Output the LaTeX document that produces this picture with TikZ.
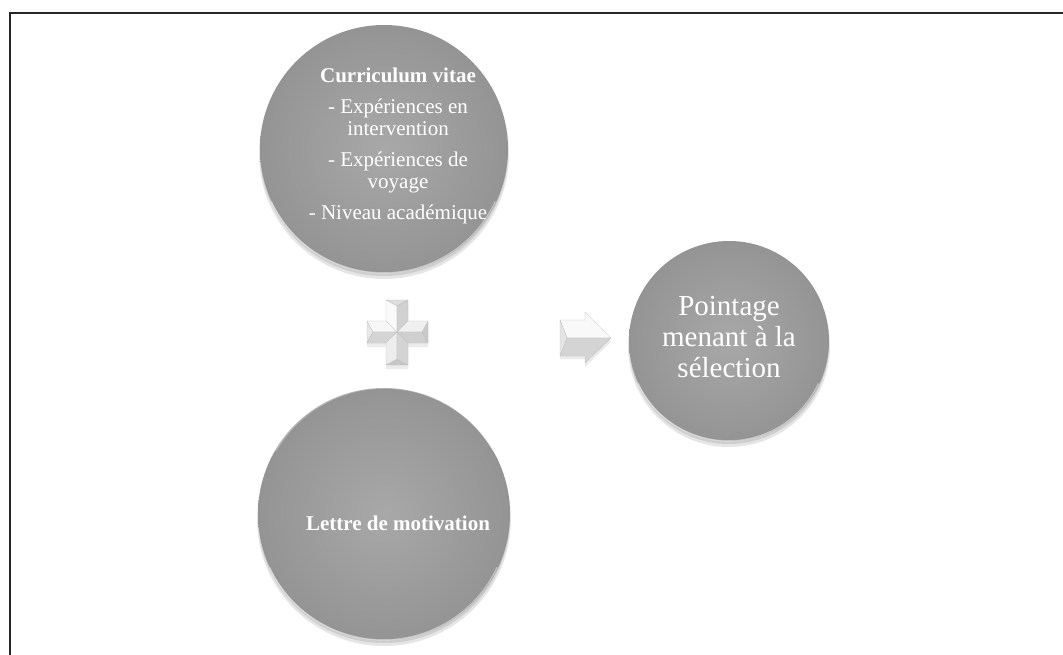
\documentclass[tikz,border=0pt]{standalone}
\usepackage{fontspec}
\setmainfont{Liberation Serif}
\usetikzlibrary{shadings}
\definecolor{bubin}{RGB}{168,168,168}
\definecolor{bubout}{RGB}{148,148,148}
\tikzset{
  bubble/.style={circle, inner sep=0pt, text=white, align=center,
    inner color=bubin, outer color=bubout},
  bubshadow/.style={fill=black, opacity=.10},
  smalltxt/.style={font=\fontsize{21}{22}\selectfont},
  bigtxt/.style={font=\fontsize{29}{31}\selectfont},
  facet/.style={draw=gray!50, line width=.3pt, line join=round},
  rim/.style={draw=white, opacity=.45, line width=1.2pt},
}
\begin{document}
\begin{tikzpicture}[x=1pt,y=-1pt]
\useasboundingbox (0,0) rectangle (1063,655);
% frame
\draw[line width=2pt, black!85] (1063,13) -- (10,13) -- (10,656);

% shadows
\foreach \cx/\cy/\r in {384/149/124, 384/514/126, 729/341/100}{
  \fill[bubshadow] (\cx,\cy+5) circle (\r+1);
  \fill[bubshadow] (\cx,\cy+3) circle (\r);
}

% circles
\node[bubble, minimum size=248pt] (cv) at (384,149) {};
\node[smalltxt, text=white, align=center] (cvt) at (398,146)
  {\textbf{Curriculum vitae}\\[9pt]
   - Expériences en\\ intervention\\[9pt]
   - Expériences de\\ voyage\\[9pt]
   - Niveau académique};
\node[bubble, minimum size=252pt] (lm) at (384,514) {};
\node[smalltxt, text=white, anchor=base] (lmt) at (398,530) {\textbf{Lettre de motivation}};
\node[bubble, minimum size=200pt] (pt) at (729,341) {};
\node[bigtxt, text=white, align=center] (ptt) at (729,337)
  {Pointage\\ menant à la\\ sélection};

% rims (canvas orientation)
\begin{scope}[y=1pt]
\draw[rim] (cv.205) arc[start angle=205, end angle=335, radius=123.5];
\draw[rim] (lm.205) arc[start angle=205, end angle=335, radius=125.5];
\draw[rim] (pt.205) arc[start angle=205, end angle=335, radius=99.5];
\draw[rim, opacity=.3] (lm.30) arc[start angle=30, end angle=150, radius=125.5];
\end{scope}

% plus sign
\begin{scope}
\fill[black, opacity=.08] (386,304) -- (408,304) -- (408,325) -- (428,325) -- (428,347) -- (408,347) -- (408,369) -- (386,369) -- (386,347) -- (367,347) -- (367,325) -- (386,325) -- cycle;
\coordinate (pT) at (397,306);
\coordinate (pB) at (397,359);
\coordinate (pL) at (373,332);
\coordinate (pR) at (422,332);
\coordinate (pC) at (397,332);
\filldraw[facet, fill=gray!25] (386,300) -- (408,300) -- (pT) -- cycle;
\filldraw[facet, fill=gray!4] (386,300) -- (pT) -- (pC) -- (386,321) -- cycle;
\filldraw[facet, fill=gray!36] (408,300) -- (pT) -- (pC) -- (408,321) -- cycle;
\filldraw[facet, fill=gray!18] (367,321) -- (367,343) -- (pL) -- cycle;
\filldraw[facet, fill=gray!6] (367,321) -- (pL) -- (pC) -- (386,321) -- cycle;
\filldraw[facet, fill=gray!34] (367,343) -- (pL) -- (pC) -- (386,343) -- cycle;
\filldraw[facet, fill=gray!42] (428,321) -- (428,343) -- (pR) -- cycle;
\filldraw[facet, fill=gray!12] (428,321) -- (pR) -- (pC) -- (408,321) -- cycle;
\filldraw[facet, fill=gray!38] (428,343) -- (pR) -- (pC) -- (408,343) -- cycle;
\filldraw[facet, fill=gray!45] (386,365) -- (408,365) -- (pB) -- cycle;
\filldraw[facet, fill=gray!14] (386,365) -- (pB) -- (pC) -- (386,343) -- cycle;
\filldraw[facet, fill=gray!34] (408,365) -- (pB) -- (pC) -- (408,343) -- cycle;
\end{scope}

% arrow
\begin{scope}
\fill[black, opacity=.08] (560,324) -- (585,324) -- (585,316) -- (611,342) -- (585,367) -- (585,359) -- (560,359) -- cycle;
\coordinate (aL) at (567,338);
\coordinate (aT) at (611,338);
\filldraw[facet, fill=gray!5] (560,320) -- (585,320) -- (585,312) -- (aT) -- (aL) -- cycle;
\filldraw[facet, fill=gray!34] (560,356) -- (585,356) -- (585,363) -- (aT) -- (aL) -- cycle;
\filldraw[facet, fill=gray!20] (560,320) -- (aL) -- (560,356) -- cycle;
\end{scope}
\end{tikzpicture}
\end{document}
